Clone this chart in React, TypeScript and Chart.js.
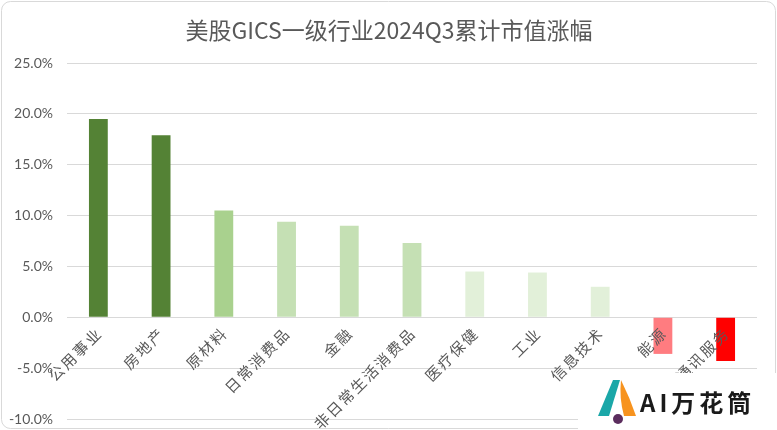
import { useEffect, useRef } from "react";
import { Chart, registerables } from "chart.js";

Chart.register(...registerables);

const TITLE = "美股GICS一级行业2024Q3累计市值涨幅";
const categories = ["公用事业", "房地产", "原材料", "日常消费品", "金融", "非日常生活消费品", "医疗保健", "工业", "信息技术", "能源", "通讯服务"];
const values = [19.5, 17.9, 10.5, 9.4, 9.0, 7.3, 4.5, 4.4, 3.0, -3.6, -4.3];
const barColors = ["#548235", "#548235", "#A9D18E", "#C5E0B4", "#C5E0B4", "#C5E0B4", "#E2F0D9", "#E2F0D9", "#E2F0D9", "#FF7C80", "#FF0000"];
const yTicks = [-10, -5, 0, 5, 10, 15, 20, 25];
const WATERMARK = "AI万花筒";

const CJK = '"Noto Sans CJK SC", "Noto Sans", sans-serif';

const framePlugin = {
  id: "frame",
  beforeDraw(chart: any) {
    const ctx = chart.ctx;
    ctx.save();
    ctx.fillStyle = "#ffffff";
    ctx.fillRect(0, 0, chart.width, chart.height);
    ctx.strokeStyle = "#d9d9d9";
    ctx.lineWidth = 1;
    ctx.beginPath();
    ctx.roundRect(1.5, 1.5, chart.width - 3, chart.height - 3, 9);
    ctx.stroke();
    ctx.fillStyle = "#595959";
    ctx.font = `23px ${CJK}`;
    ctx.textAlign = "center";
    ctx.textBaseline = "middle";
    ctx.fillText(TITLE, 389, 30);
    ctx.restore();
  },
};

const labelPlugin = {
  id: "catLabels",
  afterDatasetsDraw(chart: any) {
    const ctx = chart.ctx;
    const xs = chart.scales.x;
    const ys = chart.scales.y;
    const y0 = ys.getPixelForValue(0);
    ctx.save();
    ctx.fillStyle = "#595959";
    ctx.font = `15px ${CJK}`;
    (ctx as any).letterSpacing = "2px";
    ctx.textAlign = "right";
    ctx.textBaseline = "middle";
    categories.forEach((c, i) => {
      const x = xs.getPixelForValue(i);
      ctx.save();
      ctx.translate(x + 1, y0 + 13);
      ctx.rotate(-Math.PI / 4);
      ctx.fillText(c, 0, 0);
      ctx.restore();
    });
    ctx.restore();
  },
  afterDraw(chart: any) {
    const ctx = chart.ctx;
    ctx.save();
    ctx.fillStyle = "#ffffff";
    ctx.fillRect(578, 373, chart.width - 578, chart.height - 373);
    ctx.fillStyle = "#1aa7a8";
    ctx.beginPath();
    ctx.moveTo(613, 380);
    ctx.lineTo(620, 380);
    ctx.lineTo(609, 416);
    ctx.lineTo(598, 416);
    ctx.closePath();
    ctx.fill();
    ctx.fillStyle = "#f7931e";
    ctx.beginPath();
    ctx.moveTo(621, 380);
    ctx.quadraticCurveTo(630, 398, 636, 416);
    ctx.lineTo(624, 416);
    ctx.quadraticCurveTo(619, 398, 621, 380);
    ctx.closePath();
    ctx.fill();
    ctx.fillStyle = "#5b2d5e";
    ctx.beginPath();
    ctx.arc(618, 419, 5, 0, Math.PI * 2);
    ctx.fill();
    ctx.fillStyle = "#1a1a1a";
    ctx.font = `bold 24px ${CJK}`;
    ctx.textAlign = "left";
    ctx.textBaseline = "middle";
    (ctx as any).letterSpacing = "4px";
    ctx.fillText(WATERMARK, 640, 403);
    ctx.restore();
  },
};

export default function App() {
  const ref = useRef<HTMLCanvasElement | null>(null);
  useEffect(() => {
    document.body.style.margin = "0";
    const chart = new Chart(ref.current as HTMLCanvasElement, {
      type: "bar",
      data: {
        labels: categories,
        datasets: [
          {
            data: values,
            backgroundColor: barColors,
            borderWidth: 0,
            barPercentage: 0.3,
            categoryPercentage: 1,
          },
        ],
      },
      options: {
        animation: false,
        responsive: false,
        maintainAspectRatio: false,
        layout: { padding: { top: 63, bottom: 11, right: 20, left: 0 } },
        plugins: { legend: { display: false }, title: { display: false }, tooltip: { enabled: false } },
        scales: {
          x: { display: false },
          y: {
            min: -10,
            max: 25,
            afterBuildTicks: (s: any) => {
              s.ticks = yTicks.map((v) => ({ value: v }));
            },
            afterFit: (s: any) => {
              s.width = 67;
            },
            grid: { color: "#d9d9d9", drawTicks: true, tickLength: 14, tickColor: "rgba(0,0,0,0)", lineWidth: 1 },
            border: { display: false },
            ticks: {
              padding: 0,
              color: "#595959",
              font: { family: "Lato, sans-serif", size: 14 },
              callback: (v: any) => Number(v).toFixed(1) + "%",
            },
          },
        },
      },
      plugins: [framePlugin, labelPlugin],
    });
    return () => chart.destroy();
  }, []);
  return (
    <div style={{ position: "absolute", left: 0, top: 0, width: 777, height: 430 }}>
      <canvas ref={ref} width={777} height={430} />
    </div>
  );
}
